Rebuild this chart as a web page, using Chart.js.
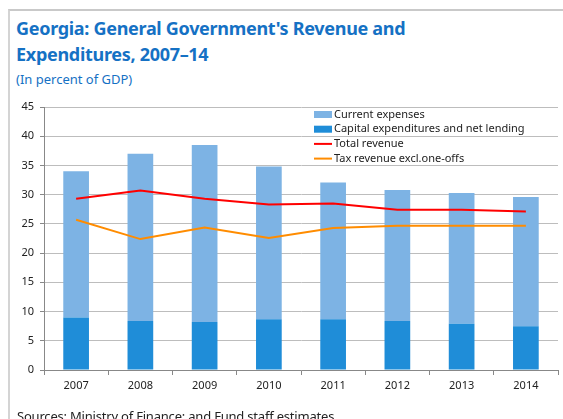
<!DOCTYPE html>
<html>
<head>
<meta charset="utf-8">
<script src="https://cdn.jsdelivr.net/npm/chart.js@4"></script>
<style>
  html, body { margin: 0; padding: 0; background: #fff; }
  body { width: 563px; height: 419px; position: relative; overflow: hidden; font-family: "Noto Sans", sans-serif; }
  #frame { position: absolute; left: 8px; top: 9px; width: 600px; height: 500px; border-top: 2px solid #c9c9c9; border-left: 2px solid #d4d4d4; }
  #title { position: absolute; left: 16px; top: 15px; color: #1571c4; font-weight: bold; font-size: 18px; line-height: 26px; letter-spacing: -0.3px; white-space: nowrap; }
  #subtitle { position: absolute; left: 16px; top: 70px; color: #1571c4; font-size: 13px; }
  #source { position: absolute; left: 17px; top: 407px; color: #222; font-size: 13px; letter-spacing: -0.2px; white-space: nowrap; }
  #wrap { position: absolute; left: 0; top: 0; width: 563px; height: 419px; }
</style>
</head>
<body>
<div id="frame"></div>
<div id="title">Georgia: General Government's Revenue and<br>Expenditures, 2007–14</div>
<div id="subtitle">(In percent of GDP)</div>
<div id="wrap"><canvas id="myChart" width="563" height="419"></canvas></div>
<div id="source">Sources: Ministry of Finance; and Fund staff estimates.</div>
<script>
const years = ["2007", "2008", "2009", "2010", "2011", "2012", "2013", "2014"];
const capitalExp = [9.0, 8.4, 8.2, 8.7, 8.7, 8.4, 7.9, 7.5];
const currentExp = [25.0, 28.6, 30.3, 26.1, 23.4, 22.4, 22.4, 22.1];
const totalRevenue = [29.3, 30.7, 29.3, 28.3, 28.5, 27.4, 27.4, 27.1];
const taxRevenue = [25.7, 22.4, 24.4, 22.6, 24.3, 24.7, 24.7, 24.7];
const yTicks = [0, 5, 10, 15, 20, 25, 30, 35, 40, 45];

const lightBlue = "#7db3e4";
const darkBlue = "#1f8dd8";
const red = "#ff0000";
const orange = "#ff8c00";
const gridColor = "#bdbdbd";
const tickFont = { family: "Noto Sans", size: 11 };

// legend sits inside the plot, top right
const legendEntries = [
  { text: "Current expenses", color: lightBlue, kind: "box" },
  { text: "Capital expenditures and net lending", color: darkBlue, kind: "box" },
  { text: "Total revenue", color: red, kind: "line" },
  { text: "Tax revenue excl.one-offs", color: orange, kind: "line" }
];

const innerLegend = {
  id: "innerLegend",
  afterDatasetsDraw(chart) {
    const ctx = chart.ctx;
    const x = 314;
    let y = 114.5;
    ctx.save();
    ctx.font = "11px 'Noto Sans'";
    ctx.textBaseline = "middle";
    legendEntries.forEach((e) => {
      if (e.kind == "box") {
        ctx.fillStyle = e.color;
        ctx.fillRect(x, y - 3.5, 18, 7);
      } else {
        ctx.strokeStyle = e.color;
        ctx.lineWidth = 2;
        ctx.beginPath();
        ctx.moveTo(x, y);
        ctx.lineTo(x + 18, y);
        ctx.stroke();
      }
      ctx.fillStyle = "#222";
      ctx.fillText(e.text, x + 20, y);
      y += 14.7;
    });
    ctx.restore();
  }
};

const config = {
  type: "bar",
  data: {
    labels: years,
    datasets: [
      {
        label: "Capital expenditures and net lending",
        data: capitalExp,
        backgroundColor: darkBlue,
        stack: "exp",
        order: 2,
        barPercentage: 0.5,
        categoryPercentage: 0.8
      },
      {
        label: "Current expenses",
        data: currentExp,
        backgroundColor: lightBlue,
        stack: "exp",
        order: 2,
        barPercentage: 0.5,
        categoryPercentage: 0.8
      },
      {
        type: "line",
        label: "Total revenue",
        data: totalRevenue,
        borderColor: red,
        borderWidth: 2,
        pointRadius: 0,
        stack: "rev",
        order: 1
      },
      {
        type: "line",
        label: "Tax revenue excl.one-offs",
        data: taxRevenue,
        borderColor: orange,
        borderWidth: 2,
        pointRadius: 0,
        stack: "tax",
        order: 0
      }
    ]
  },
  options: {
    responsive: false,
    animation: false,
    layout: { padding: { top: 107, left: 0, right: 5, bottom: 0 } },
    plugins: {
      legend: { display: false },
      tooltip: { enabled: false }
    },
    scales: {
      x: {
        stacked: true,
        grid: { drawOnChartArea: false, drawTicks: true, tickLength: 5, color: "#888", offset: true },
        border: { color: "#888" },
        ticks: { color: "#222", font: tickFont, padding: 4 },
        afterFit: (scale) => { scale.height = 49; }
      },
      y: {
        stacked: true,
        min: 0,
        max: 45,
        afterBuildTicks: (scale) => { scale.ticks = yTicks.map((v) => ({ value: v })); },
        grid: { color: gridColor, tickLength: 4, tickColor: "#888" },
        border: { color: "#888" },
        ticks: { color: "#222", font: tickFont, padding: 6 },
        afterFit: (scale) => { scale.width = 44; }
      }
    }
  },
  plugins: [innerLegend]
};

const myChart = new Chart(document.getElementById("myChart"), config);
</script>
</body>
</html>
